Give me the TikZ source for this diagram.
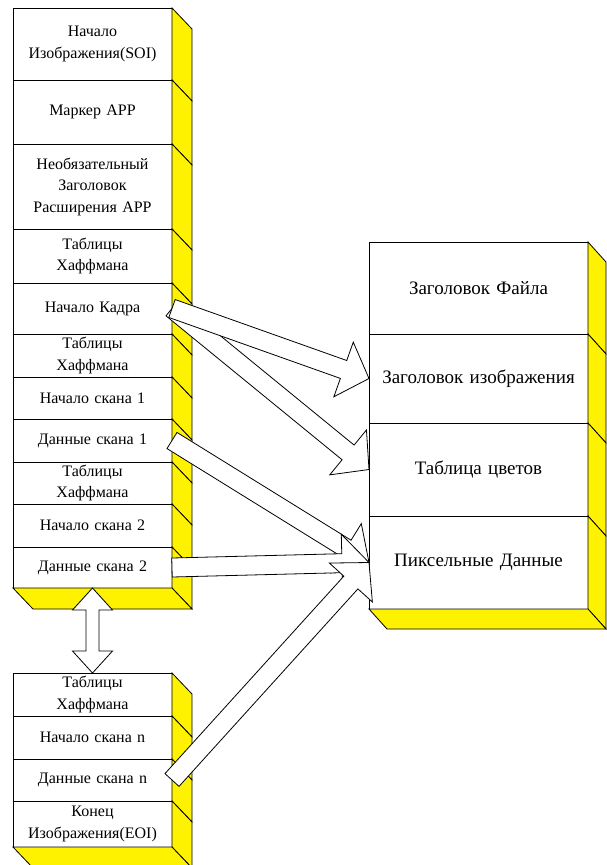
\documentclass[tikz,border=0pt]{standalone}
\usepackage{fontspec}
\setmainfont{Liberation Serif}
\usetikzlibrary{positioning,calc}

\tikzset{
  cell/.style={draw, fill=white, minimum width=159pt, text width=155pt, align=center,
    inner sep=0pt, outer sep=0pt, font=\fontsize{16}{21.5}\selectfont},
  bigcell/.style={cell, minimum width=219pt, text width=215pt, font=\fontsize{19}{24}\selectfont},
  side/.style={draw, fill=yellow},
  blk/.style={draw, fill=white, line join=miter},
}

% yellow side face of a cell, depth #2,#3
\newcommand{\sideface}[3]{\draw[side] (#1.north east) -- ++(#2,#3) -- ($(#1.south east)+(#2,#3)$) -- (#1.south east) -- cycle;}
% yellow bottom face
\newcommand{\bottomface}[3]{\draw[side] (#1.south west) -- (#1.south east) -- ++(#2,#3) -- ($(#1.south west)+(#2,#3)$) -- cycle;}
% wide white arrow from #1 to #2
\newcommand{\blockarrow}[2]{%
  \coordinate (hb) at ($(#2)!27pt!(#1)$);
  \draw[blk] ($(#1)!9.5pt!90:(#2)$) -- ($(hb)!9.5pt!90:(#2)$) -- ($(hb)!29pt!90:(#2)$) -- (#2)
    -- ($(hb)!29pt!-90:(#2)$) -- ($(hb)!9.5pt!-90:(#2)$) -- ($(#1)!9.5pt!-90:(#2)$) -- cycle;}
% wide white arrow with two heads
\newcommand{\dblarrow}[2]{%
  \coordinate (ha) at ($(#1)!22pt!(#2)$);
  \coordinate (hb) at ($(#2)!22pt!(#1)$);
  \draw[blk] (#1) -- ($(ha)!20pt!90:(#2)$) -- ($(ha)!6.5pt!90:(#2)$) -- ($(hb)!6.5pt!90:(#2)$)
    -- ($(hb)!20pt!90:(#2)$) -- (#2) -- ($(hb)!20pt!-90:(#2)$) -- ($(hb)!6.5pt!-90:(#2)$)
    -- ($(ha)!6.5pt!-90:(#2)$) -- ($(ha)!20pt!-90:(#2)$) -- cycle;}

\begin{document}
\begin{tikzpicture}[x=1pt, y=-1pt, line width=0.8pt]
  \useasboundingbox (0,0) rectangle (606,865);

  % JPEG stream
  \node[cell, minimum height=72pt, anchor=north west] (l1) at (13,8) {Начало\\Изображения(SOI)};
  \node[cell, minimum height=64pt, below=0pt of l1] (l2) {Маркер APP};
  \node[cell, minimum height=85pt, below=0pt of l2] (l3) {Необязательный\\Заголовок\\Расширения APP};
  \node[cell, minimum height=54pt, below=0pt of l3] (l4) {Таблицы\\Хаффмана};
  \node[cell, minimum height=51pt, below=0pt of l4] (l5) {Начало Кадра};
  \node[cell, minimum height=43pt, below=0pt of l5] (l6) {Таблицы\\Хаффмана};
  \node[cell, minimum height=42pt, below=0pt of l6] (l7) {Начало скана 1};
  \node[cell, minimum height=43pt, below=0pt of l7] (l8) {Данные скана 1};
  \node[cell, minimum height=42pt, below=0pt of l8] (l9) {Таблицы\\Хаффмана};
  \node[cell, minimum height=43pt, below=0pt of l9] (l10) {Начало скана 2};
  \node[cell, minimum height=41pt, below=0pt of l10] (l11) {Данные скана 2};
  \foreach \n in {1,...,11} {\sideface{l\n}{20}{21}}
  \bottomface{l11}{20}{21}

  % last scan
  \node[cell, minimum height=43pt, anchor=north west] (b1) at (13,673) {Таблицы\\Хаффмана};
  \node[cell, minimum height=43pt, below=0pt of b1] (b2) {Начало скана n};
  \node[cell, minimum height=42pt, below=0pt of b2] (b3) {Данные скана n};
  \node[cell, minimum height=46pt, below=0pt of b3] (b4) {Конец\\Изображения(EOI)};
  \foreach \n in {1,...,4} {\sideface{b\n}{20}{21}}
  \bottomface{b4}{20}{21}

  % BMP file
  \node[bigcell, minimum height=92pt, anchor=north west] (r1) at (369,242) {Заголовок Файла};
  \node[bigcell, minimum height=89pt, below=0pt of r1] (r2) {Заголовок изображения};
  \node[bigcell, minimum height=93pt, below=0pt of r2] (r3) {Таблица цветов};
  \node[bigcell, minimum height=93pt, below=0pt of r3] (r4) {Пиксельные Данные};
  \foreach \n in {1,...,4} {\sideface{r\n}{18}{20}}
  \bottomface{r4}{18}{20}

  % arrows
  \dblarrow{l11.south}{b1.north}
  \blockarrow{l5.east}{r3.west}
  \blockarrow{l5.east}{r2.west}
  \blockarrow{l8.east}{r4.west}
  \blockarrow{l11.east}{r4.west}
  \blockarrow{b3.east}{r4.west}
\end{tikzpicture}
\end{document}
